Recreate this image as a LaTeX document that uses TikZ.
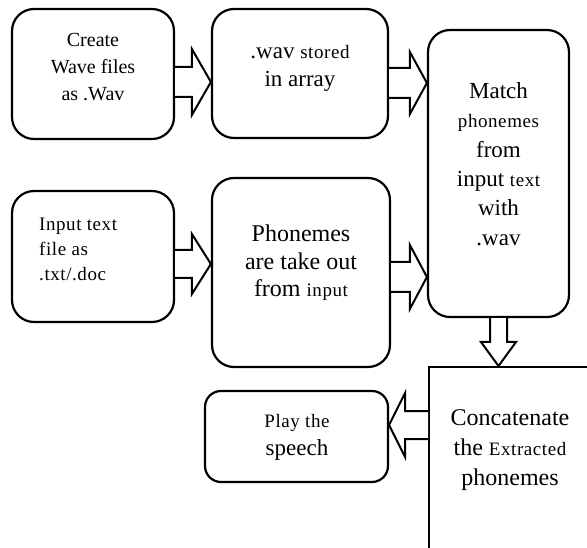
\documentclass[tikz,border=0pt]{standalone}
\usepackage{fontspec}
\setmainfont{Liberation Serif}
\newfontfamily\smfam[LetterSpace=3]{Liberation Serif}
\newcommand\sm{\smfam\fontsize{19}{\baselineskip}\selectfont}
\usetikzlibrary{calc}
% #1 shaft half width, #2 head half width, #3 head length, #4 from, #5 to
\newcommand\blkarrow[5]{%
  \coordinate (ba-h) at ($(#5)!#3pt!(#4)$);
  \draw[blkline] ($(#4)!#1pt!90:(#5)$) -- ($(ba-h)!#1pt!90:(#5)$) -- ($(ba-h)!#2pt!90:(#5)$) -- (#5)
    -- ($(ba-h)!#2pt!-90:(#5)$) -- ($(ba-h)!#1pt!-90:(#5)$) -- ($(#4)!#1pt!-90:(#5)$);
}
\begin{document}
\begin{tikzpicture}[x=1pt,y=-1pt,
  box/.style={draw, line width=2.2pt, rounded corners=22pt, inner sep=0pt},
  blkline/.style={draw, line width=2pt, line join=miter, fill=white},
  txt/.style={align=center, inner sep=0pt}]
\useasboundingbox (0,0) rectangle (587,548);
\fill[white] (0,0) rectangle (587,548);
\begin{scope}
\clip (0,0) rectangle (587,548);
% boxes
\node[box, minimum width=162pt, minimum height=130pt] (b1) at (93,74) {};
\node[box, minimum width=176pt, minimum height=129pt] (b2) at (300,73.5) {};
\node[box, minimum width=141pt, minimum height=287pt] (m) at (498.5,173.5) {};
\node[box, minimum width=162pt, minimum height=131pt] (in) at (93,256.5) {};
\node[box, minimum width=178pt, minimum height=189pt] (ph) at (301,272.5) {};
\node[box, rounded corners=16pt, minimum width=183pt, minimum height=91pt] (play) at (296.5,436.5) {};
\node[draw, line width=2.2pt, inner sep=0pt, minimum width=220pt, minimum height=220pt, anchor=north west] (cc) at (428,366) {};
% texts
\node[txt, font=\fontsize{20}{27}\selectfont] (t1) at (93,67) {Create\\Wave files\\as .Wav};
\node[txt, font=\fontsize{23}{28}\selectfont] (t2) at (300,68) {.wav {\sm stored}\\in array};
\node[txt, font=\fontsize{23}{29.4}\selectfont] (tm) at (498.5,164) {Match\\{\sm phonemes}\\from\\input {\sm text}\\with\\.wav};
\node[txt, align=left, anchor=west, font=\smfam\fontsize{19}{25}\selectfont] (tin) at (39,249) {Input text\\file as\\.txt/.doc};
\node[txt, font=\fontsize{24}{27.5}\selectfont] (tph) at (301,263) {Phonemes\\are take out\\from {\sm input}};
\node[txt, font=\fontsize{23}{28}\selectfont] (tpl) at (297,437) {{\sm Play the}\\speech};
\node[txt, font=\fontsize{24}{30}\selectfont] (tcc) at (510,450) {Concatenate\\the {\sm Extracted}\\phonemes};
% connectors
\coordinate (a1s) at (b1.east |- 0,82);
\coordinate (a1e) at (b2.west |- 0,82);
\coordinate (a2s) at (b2.east |- 0,83);
\coordinate (a2e) at (m.west |- 0,83);
\coordinate (a3s) at (in.east |- 0,264);
\coordinate (a3e) at (ph.west |- 0,264);
\coordinate (a4s) at (ph.east |- 0,277);
\coordinate (a4e) at (m.west |- 0,277);
\coordinate (a5e) at (cc.north -| m.south);
\coordinate (a6s) at (cc.west |- 0,425);
\coordinate (a6e) at (play.east |- 0,425);
\blkarrow{15}{33}{19}{a1s}{a1e}
\blkarrow{15}{31}{17}{a2s}{a2e}
\blkarrow{14}{30}{19}{a3s}{a3e}
\blkarrow{15}{32}{17}{a4s}{a4e}
\blkarrow{8.5}{17.5}{24}{m.south}{a5e}
\blkarrow{14}{32}{16}{a6s}{a6e}
\end{scope}
\end{tikzpicture}
\end{document}
